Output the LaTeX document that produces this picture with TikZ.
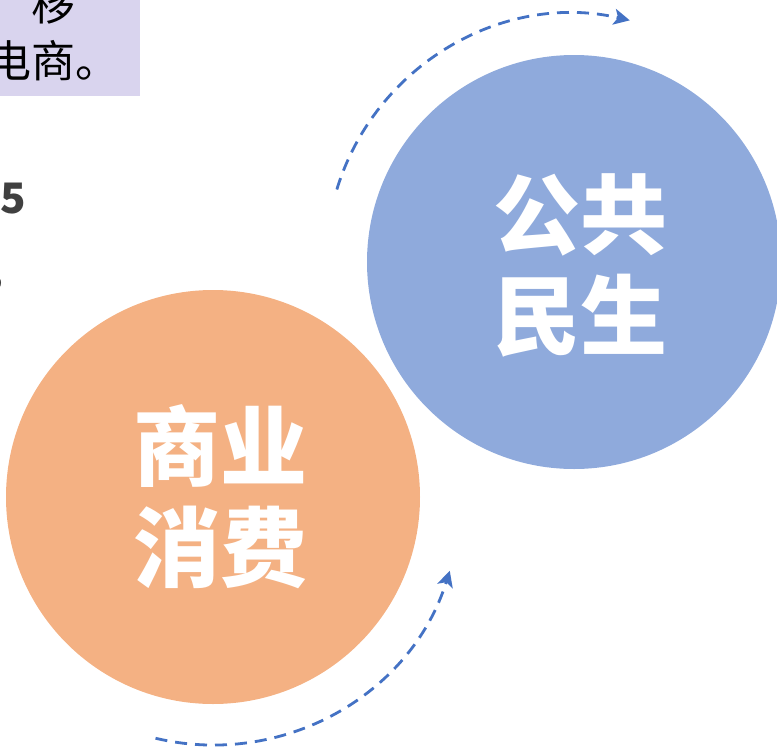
\documentclass[tikz,border=0pt]{standalone}
\usepackage{fontspec}
\usepackage{xcolor}
\newfontfamily\cjk{Noto Sans CJK SC}
\usetikzlibrary{arrows.meta,positioning,calc}

\definecolor{pubblue}{HTML}{8FAADC}
\definecolor{bizorange}{HTML}{F4B183}
\definecolor{flowblue}{HTML}{4472C4}
\definecolor{notelilac}{HTML}{D9D4EE}
\definecolor{darktext}{HTML}{404040}

\begin{document}
\begin{tikzpicture}[x=1pt, y=1pt,
    bigcircle/.style={circle, minimum size=414pt, inner sep=0pt},
    bigtext/.style={font=\cjk\bfseries\fontsize{87}{101}\selectfont, text=white, align=center, inner sep=0pt},
    notetext/.style={font=\cjk\fontsize{44}{57}\selectfont, text=black, inner sep=0pt},
    flow/.style={draw=flowblue, line width=2.8pt, dash pattern=on 12pt off 8pt, -{Stealth[length=16pt, width=16pt, inset=4pt]}}]
    \useasboundingbox (0,0) rectangle (777,-750);

    % note box (cut at the page edge)
    \fill[notelilac] (0,0) rectangle (140,-96);
    \node[notetext, anchor=base west] (movetxt) at (31,-20) {移};
    \node[notetext, anchor=base west] (shoptxt) at (-13,-77) {电商。};

    % side text (cut at the page edge)
    \node[font=\cjk\bfseries\fontsize{42}{50}\selectfont, text=darktext, anchor=base west, inner sep=0pt] (five) at (0,-213) {5};
    \node[font=\cjk\bfseries\fontsize{30}{36}\selectfont, text=darktext, anchor=base west, inner sep=0pt] (comma) at (-8,-284) {,};

    % public circle
    \node[bigcircle, fill=pubblue] (pub) at (574,-262) {};
    \node[bigtext] (pubtxt) at ([xshift=6pt, yshift=-3pt]pub.center) {公共\\民生};

    % business circle
    \node[bigcircle, fill=bizorange] (biz) at (213,-497) {};
    \node[bigtext] (biztxt) at ([xshift=7pt]biz.center) {商业\\消费};

    % dashed arrows round the circles
    \draw[flow] ([shift={(163:248)}]pub.center) arc[start angle=163, end angle=77, radius=248];
    \draw[flow] ([shift={(-103.4:248)}]biz.center) arc[start angle=-103.4, end angle=-17.3, radius=248];
\end{tikzpicture}
\end{document}
